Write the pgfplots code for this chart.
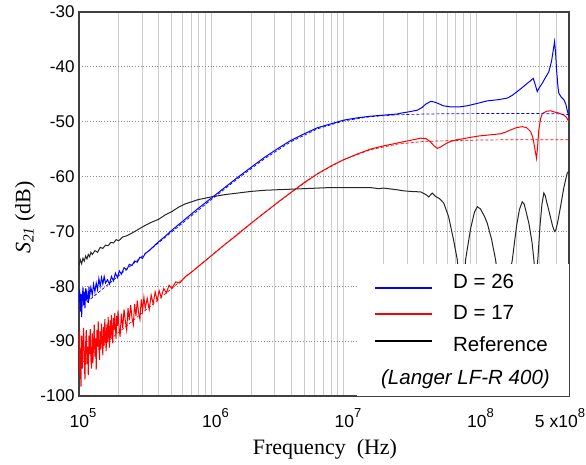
\documentclass[border=0pt]{standalone}
\usepackage{fontspec}
\setmainfont{Liberation Sans}
\newfontfamily\timesf{Liberation Serif}
\usepackage{pgfplots}
\usepackage{pgfplotstable}
\pgfplotsset{compat=1.18}
\pgfplotsset{legline/.style 2 args={legend image code/.code={\draw[#1, line width=1.9pt] (0pt,#2) -- (57pt,#2);}}}
\newcommand{\dec}[1]{10\raisebox{0.55em}{\fontsize{13}{13}\selectfont #1}}

% columns: log10 of frequency (Hz), S21 (dB)
\pgfplotstableread{
lf val
5.000 -83.0
5.005 -80.6
5.010 -84.6
5.015 -81.4
5.020 -85.6
5.025 -82.0
5.030 -80.2
5.035 -83.4
5.040 -81.0
5.045 -84.0
5.050 -80.4
5.055 -82.6
5.060 -81.2
5.070 -83.0
5.075 -80.0
5.080 -81.8
5.090 -80.2
5.100 -81.6
5.110 -79.6
5.120 -81.0
5.130 -79.4
5.140 -80.6
5.150 -78.6
5.160 -80.0
5.170 -78.4
5.180 -79.6
5.190 -78.2
5.200 -79.4
5.215 -78.8
5.230 -79.6
5.245 -78.2
5.260 -79.0
5.275 -77.6
5.290 -78.4
5.305 -77.2
5.320 -77.8
5.340 -76.6
5.360 -77.0
5.380 -76.0
5.400 -76.2
5.420 -75.4
5.440 -75.6
5.460 -74.7
5.480 -74.9
5.500 -74.0
5.530 -73.5
5.560 -72.8
5.600 -71.9
5.650 -70.9
5.700 -69.8
5.800 -67.8
5.900 -65.8
6.000 -63.9
6.100 -62.0
6.200 -60.1
6.300 -58.3
6.400 -56.5
6.500 -54.9
6.600 -53.4
6.700 -52.2
6.800 -51.1
6.900 -50.4
7.000 -49.7
7.100 -49.3
7.200 -49.0
7.300 -48.8
7.400 -48.6
7.428 -48.45
7.490 -48.2
7.554 -47.9
7.590 -47.4
7.617 -46.8
7.655 -46.3
7.680 -46.4
7.705 -46.6
7.750 -47.1
7.805 -47.3
7.870 -47.3
7.931 -47.1
8.000 -46.7
8.082 -46.2
8.160 -46.0
8.233 -45.7
8.270 -45.2
8.308 -44.5
8.350 -43.7
8.384 -43.0
8.410 -42.5
8.429 -42.1
8.445 -43.3
8.459 -44.5
8.475 -43.8
8.497 -43.0
8.520 -42.0
8.547 -40.9
8.567 -39.0
8.580 -37.0
8.590 -35.4
8.598 -37.5
8.605 -40.5
8.615 -43.5
8.622 -44.8
8.640 -45.5
8.660 -46.0
8.675 -46.8
8.685 -47.9
8.698 -49.0
}\blueD

\pgfplotstableread{
lf val
5.0 -84.06
5.2 -80.06
5.4 -76.07
5.6 -72.08
5.8 -68.11
6.0 -64.18
6.2 -60.35
6.4 -56.76
6.6 -53.65
6.8 -51.30
7.0 -49.84
7.2 -49.08
7.4 -48.74
7.6 -48.60
7.8 -48.54
8.0 -48.52
8.4 -48.50
8.6 -48.55
8.698 -48.70
}\blueFit

\pgfplotstableread{
lf val
5.000 -96.0
5.005 -88.2
5.010 -94.5
5.015 -98.3
5.020 -89.0
5.025 -95.0
5.030 -90.0
5.035 -87.6
5.040 -93.8
5.045 -97.0
5.050 -90.5
5.055 -88.0
5.060 -94.2
5.065 -91.0
5.070 -96.2
5.075 -89.0
5.080 -92.4
5.085 -87.8
5.090 -93.5
5.095 -95.0
5.100 -88.6
5.105 -94.0
5.110 -90.2
5.115 -87.0
5.120 -92.8
5.125 -89.5
5.130 -95.2
5.135 -88.0
5.140 -91.0
5.145 -86.4
5.150 -90.6
5.155 -93.4
5.160 -88.2
5.165 -91.5
5.170 -86.8
5.175 -89.9
5.180 -92.6
5.185 -87.4
5.190 -90.8
5.195 -86.0
5.200 -89.4
5.205 -91.8
5.210 -87.0
5.215 -90.2
5.220 -85.6
5.225 -88.8
5.230 -91.2
5.235 -86.2
5.240 -89.4
5.245 -85.2
5.250 -88.6
5.255 -90.4
5.260 -85.8
5.265 -88.0
5.270 -84.9
5.275 -87.6
5.280 -89.6
5.285 -85.4
5.290 -87.2
5.295 -84.4
5.300 -86.8
5.310 -89.2
5.320 -85.0
5.330 -87.6
5.340 -84.2
5.350 -86.4
5.360 -88.0
5.370 -84.0
5.380 -86.2
5.390 -83.4
5.400 -85.8
5.410 -87.0
5.420 -83.2
5.430 -85.4
5.440 -82.6
5.450 -84.8
5.460 -86.0
5.470 -82.4
5.480 -84.4
5.490 -82.0
5.500 -84.0
5.515 -82.2
5.530 -84.2
5.545 -81.6
5.560 -83.2
5.575 -81.0
5.590 -82.6
5.605 -80.8
5.620 -82.0
5.640 -80.4
5.660 -81.2
5.680 -79.8
5.700 -80.4
5.730 -79.2
5.760 -79.4
5.800 -78.3
5.850 -77.4
5.900 -76.4
5.950 -75.4
6.000 -74.4
6.100 -72.4
6.200 -70.5
6.300 -68.5
6.400 -66.6
6.500 -64.7
6.600 -62.9
6.700 -61.1
6.800 -59.5
6.900 -58.1
7.000 -56.9
7.100 -55.9
7.200 -55.0
7.300 -54.4
7.400 -53.9
7.480 -53.5
7.540 -53.2
7.580 -53.0
7.620 -53.1
7.650 -53.6
7.680 -54.4
7.705 -54.85
7.730 -54.6
7.770 -54.0
7.805 -53.6
7.850 -53.3
7.900 -53.1
7.956 -52.85
8.020 -52.6
8.100 -52.4
8.183 -52.2
8.220 -51.9
8.258 -51.5
8.300 -51.1
8.346 -50.9
8.380 -51.1
8.409 -51.8
8.425 -52.8
8.434 -53.9
8.445 -55.5
8.454 -56.7
8.462 -54.5
8.471 -51.5
8.484 -49.5
8.497 -48.5
8.530 -48.1
8.560 -48.0
8.584 -48.2
8.620 -48.4
8.660 -48.8
8.680 -49.2
8.698 -50.0
}\redD

\pgfplotstableread{
lf val
5.0 -94.4
5.2 -90.4
5.4 -86.4
5.6 -82.4
5.8 -78.4
6.0 -74.4
6.2 -70.4
6.4 -66.6
6.6 -62.9
6.8 -59.5
7.0 -56.9
7.2 -55.1
7.4 -54.1
7.6 -53.6
7.8 -53.45
8.0 -53.35
8.2 -53.3
8.698 -53.3
}\redFit

\pgfplotstableread{
lf val
5.000 -76.2
5.010 -75.2
5.020 -75.9
5.030 -74.9
5.040 -75.4
5.050 -74.5
5.060 -75.0
5.070 -74.2
5.080 -74.6
5.090 -73.8
5.100 -74.2
5.120 -73.5
5.140 -73.8
5.160 -72.9
5.180 -73.1
5.200 -72.5
5.220 -72.6
5.240 -72.0
5.260 -72.1
5.280 -71.5
5.300 -71.7
5.330 -71.0
5.360 -70.8
5.400 -70.3
5.450 -69.6
5.500 -68.9
5.550 -68.3
5.600 -67.8
5.650 -67.0
5.700 -66.4
5.750 -65.6
5.800 -65.0
5.850 -64.6
5.900 -64.2
6.000 -63.7
6.100 -63.3
6.200 -63.0
6.300 -62.7
6.400 -62.5
6.500 -62.4
6.600 -62.3
6.700 -62.2
6.800 -62.1
6.900 -62.0
7.000 -62.0
7.100 -62.0
7.200 -62.0
7.260 -62.2
7.300 -62.1
7.400 -62.4
7.450 -62.6
7.500 -62.7
7.580 -62.8
7.620 -63.3
7.640 -63.7
7.667 -63.0
7.690 -63.6
7.720 -64.0
7.753 -64.8
7.790 -67.3
7.828 -71.6
7.856 -75.2
7.870 -79.0
7.885 -83.0
7.900 -81.0
7.918 -75.2
7.956 -69.5
7.985 -66.5
8.007 -65.5
8.030 -65.9
8.060 -67.2
8.082 -68.5
8.115 -71.5
8.145 -75.2
8.170 -80.0
8.200 -83.0
8.235 -80.0
8.271 -75.2
8.303 -69.0
8.325 -66.0
8.346 -64.6
8.360 -65.0
8.371 -66.0
8.396 -68.5
8.420 -72.0
8.434 -75.2
8.448 -79.0
8.464 -75.0
8.480 -69.0
8.495 -65.0
8.509 -63.0
8.520 -63.5
8.529 -64.5
8.545 -66.0
8.560 -67.5
8.575 -69.0
8.590 -70.0
8.600 -69.7
8.612 -68.5
8.635 -65.5
8.660 -62.0
8.685 -59.4
8.698 -59.0
}\refD

\begin{document}
\begin{tikzpicture}
\useasboundingbox (0,0) rectangle (586pt,464pt);
\begin{axis}[
  at={(79pt,68pt)}, anchor=south west,
  scale only axis,
  width=490pt, height=384pt,
  xmode=log,
  xmin=1e5, xmax=5e8,
  ymin=-100, ymax=-30,
  xtick={1e5,1e6,1e7,1e8},
  xticklabels={\dec{5},\dec{6},\dec{7},\dec{8}},
  minor xtick={2e5,3e5,4e5,5e5,6e5,7e5,8e5,9e5,2e6,3e6,4e6,5e6,6e6,7e6,8e6,9e6,2e7,3e7,4e7,5e7,6e7,7e7,8e7,9e7,2e8,3e8,4e8},
  extra x ticks={5e8},
  extra x tick labels={5 x\dec{8}},
  extra x tick style={grid=none, xticklabel style={xshift=-13pt}},
  ytick={-100,-90,-80,-70,-60,-50,-40,-30},
  yticklabels={-100,-90,-80,-70,-60,-50,-40,-30},
  major tick length=0pt, minor tick length=0pt,
  xmajorgrids, xminorgrids, ymajorgrids,
  x grid style={draw=black!20, line width=0.9pt},
  y grid style={draw=black!45, line width=0.8pt, dotted},
  axis line style={draw=black!75, line width=1.2pt},
  yticklabel style={font=\fontsize{17}{20}\selectfont, xshift=-1pt},
  xticklabel style={font=\fontsize{17.5}{20}\selectfont, xshift=4pt, yshift=-9pt},
  xlabel={{\timesf Frequency\ \ (Hz)}},
  ylabel={{\timesf\itshape S\textsubscript{21}\upshape\ (dB)}},
  label style={font=\fontsize{22}{26}\selectfont},
  x label style={at={(axis description cs:0.502,-0.138)}, anchor=center},
  y label style={at={(axis description cs:-0.110,0.465)}, anchor=center},
  legend cell align=left,
  legend style={at={(1,0)}, anchor=south east, fill=white, draw=none,
    font=\fontsize{20.5}{24}\selectfont, inner xsep=17pt, inner ysep=8pt,
    row sep=12pt,
    /tikz/every odd column/.append style={column sep=18pt}},
]
\addplot[blue, line width=1pt, legline={blue}{-6pt}] table[x expr=10^\thisrow{lf}, y=val] {\blueD};
\addlegendentry{D = 26}
\addplot[red, line width=1pt, legline={red}{-1pt}] table[x expr=10^\thisrow{lf}, y=val] {\redD};
\addlegendentry{D = 17}
\addplot[black!85, line width=1pt, legline={black}{4pt}] table[x expr=10^\thisrow{lf}, y=val] {\refD};
\addlegendentry{Reference}
\addplot[blue, line width=0.7pt, dash pattern=on 3pt off 2pt, forget plot] table[x expr=10^\thisrow{lf}, y=val] {\blueFit};
\addplot[red, line width=0.7pt, dash pattern=on 3pt off 2pt, forget plot] table[x expr=10^\thisrow{lf}, y=val] {\redFit};
\addlegendimage{empty legend}
\addlegendentry{\hspace*{-72pt}\textit{(Langer LF-R 400)}}
\end{axis}
\end{tikzpicture}
\end{document}
